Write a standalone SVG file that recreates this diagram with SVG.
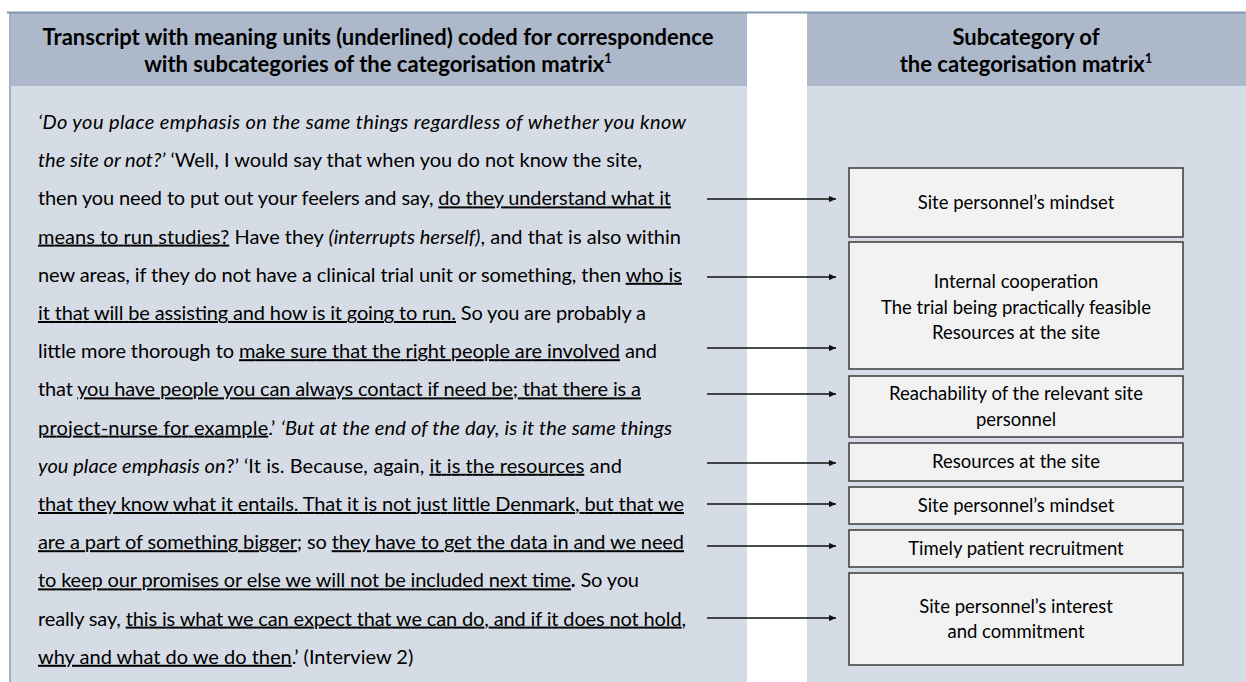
<svg xmlns="http://www.w3.org/2000/svg" width="1246" height="682" viewBox="0 0 1246 682">
<style>
.hdr{fill:#adb9ca}
.body{fill:#d6dce5}
.ht{font-family:Lato,"Liberation Sans",sans-serif;font-weight:bold;font-size:22px;fill:#000;text-anchor:middle}
.tx{font-family:Lato,"Liberation Sans",sans-serif;font-size:20px;fill:#000}
.i{font-style:italic}
.u{text-decoration:underline;text-decoration-skip-ink:none;text-decoration-thickness:1.5px}
.b{font-weight:bold}
.box{fill:#f2f2f2;stroke:#3a3a3a;stroke-width:1.5}
.bt{font-family:Lato,"Liberation Sans",sans-serif;font-size:18.5px;fill:#000;text-anchor:middle}
.arr{stroke:#111;stroke-width:1.5;fill:none;marker-end:url(#ah)}
</style>
<defs>
<marker id="ah" viewBox="0 0 10 10" refX="10" refY="5" markerWidth="5" markerHeight="4.5" orient="auto" markerUnits="strokeWidth" preserveAspectRatio="none">
<path d="M0,0 L10,5 L0,10 z" fill="#111"/>
</marker>
</defs>
<rect width="1246" height="682" fill="#ffffff"/>
<g id="left-panel">
<rect class="body" x="9" y="12" width="738" height="670"/>
<rect class="hdr" x="9" y="12" width="738" height="74"/>
<line x1="10" y1="12" x2="10" y2="682" stroke="#a3b0c3" stroke-width="2"/>
<text class="ht" x="378" y="45">Transcript with meaning units (underlined) coded for correspondence</text>
<text class="ht" x="378" y="72">with subcategories of the categorisation matrix<tspan font-size="13" dy="-9">1</tspan></text>
</g>
<g id="right-panel">
<rect class="body" x="807" y="12" width="439" height="670"/>
<rect class="hdr" x="807" y="12" width="439" height="74"/>
<text class="ht" x="1026" y="45">Subcategory of</text>
<text class="ht" x="1026" y="72">the categorisation matrix<tspan font-size="13" dy="-9">1</tspan></text>
</g>
<line x1="7" y1="12.5" x2="1246" y2="12.5" stroke="#8497b0" stroke-width="2"/>
<g id="transcript">
<text class="tx" x="38" y="129" textLength="648"><tspan class="i">‘Do you place emphasis on the same things regardless of whether you know</tspan></text>
<text class="tx" x="38" y="167.2" textLength="604"><tspan class="i">the site or not?’</tspan> ‘Well, I would say that when you do not know the site,</text>
<text class="tx" x="38" y="205.4" textLength="633">then you need to put out your feelers and say, <tspan class="u">do they understand what it</tspan></text>
<text class="tx" x="38" y="243.6" textLength="643"><tspan class="u">means to run studies?</tspan> Have they <tspan class="i">(interrupts herself)</tspan>, and that is also within</text>
<text class="tx" x="38" y="281.8" textLength="644">new areas, if they do not have a clinical trial unit or something, then <tspan class="u">who is</tspan></text>
<text class="tx" x="38" y="320" textLength="608"><tspan class="u">it that will be assisting and how is it going to run.</tspan> So you are probably a</text>
<text class="tx" x="38" y="358.2" textLength="619">little more thorough to <tspan class="u">make sure that the right people are involved</tspan> and</text>
<text class="tx" x="38" y="396.4" textLength="603">that <tspan class="u">you have people you can always contact if need be; that there is a</tspan></text>
<text class="tx" x="38" y="434.6" textLength="634"><tspan class="u">project-nurse for example</tspan>.’ <tspan class="i">‘But at the end of the day, is it the same things</tspan></text>
<text class="tx" x="38" y="472.8" textLength="584"><tspan class="i">you place emphasis on</tspan>?’ ‘It is. Because, again, <tspan class="u">it is the resources</tspan> and</text>
<text class="tx" x="38" y="511" textLength="646"><tspan class="u">that they know what it entails. That it is not just little Denmark, but that we</tspan></text>
<text class="tx" x="38" y="549.2" textLength="646"><tspan class="u">are a part of something bigger</tspan>; so <tspan class="u">they have to get the data in and we need</tspan></text>
<text class="tx" x="38" y="587.4" textLength="601"><tspan class="u">to keep our promises or else we will not be included next time</tspan><tspan class="b">.</tspan> So you</text>
<text class="tx" x="38" y="625.6" textLength="648">really say, <tspan class="u">this is what we can expect that we can do, and if it does not hold,</tspan></text>
<text class="tx" x="38" y="663.8"><tspan class="u">why and what do we do then</tspan>.’ (Interview 2)</text>
</g>
<g id="connectors">
<line class="arr" x1="707" y1="199" x2="836" y2="199"/>
<line class="arr" x1="707" y1="277" x2="836" y2="277"/>
<line class="arr" x1="707" y1="348" x2="836" y2="348"/>
<line class="arr" x1="707" y1="394" x2="836" y2="394"/>
<line class="arr" x1="707" y1="463" x2="836" y2="463"/>
<line class="arr" x1="707" y1="504" x2="836" y2="504"/>
<line class="arr" x1="707" y1="546" x2="836" y2="546"/>
<line class="arr" x1="707" y1="618" x2="836" y2="618"/>
</g>
<g id="box1">
<rect class="box" x="849" y="168" width="334" height="69"/>
<text class="bt" x="1016" y="209">Site personnel’s mindset</text>
</g>
<g id="box2">
<rect class="box" x="849" y="242" width="334" height="127"/>
<text class="bt" x="1016" y="288">Internal cooperation</text>
<text class="bt" x="1016" y="313.5">The trial being practically feasible</text>
<text class="bt" x="1016" y="339">Resources at the site</text>
</g>
<g id="box3">
<rect class="box" x="849" y="376" width="334" height="61"/>
<text class="bt" x="1016" y="400">Reachability of the relevant site</text>
<text class="bt" x="1016" y="426">personnel</text>
</g>
<g id="box4">
<rect class="box" x="849" y="443" width="334" height="38"/>
<text class="bt" x="1016" y="468">Resources at the site</text>
</g>
<g id="box5">
<rect class="box" x="849" y="487" width="334" height="37"/>
<text class="bt" x="1016" y="512">Site personnel’s mindset</text>
</g>
<g id="box6">
<rect class="box" x="849" y="530" width="334" height="37"/>
<text class="bt" x="1016" y="555">Timely patient recruitment</text>
</g>
<g id="box7">
<rect class="box" x="849" y="573" width="334" height="92"/>
<text class="bt" x="1016" y="613">Site personnel’s interest</text>
<text class="bt" x="1016" y="638">and commitment</text>
</g>
</svg>
